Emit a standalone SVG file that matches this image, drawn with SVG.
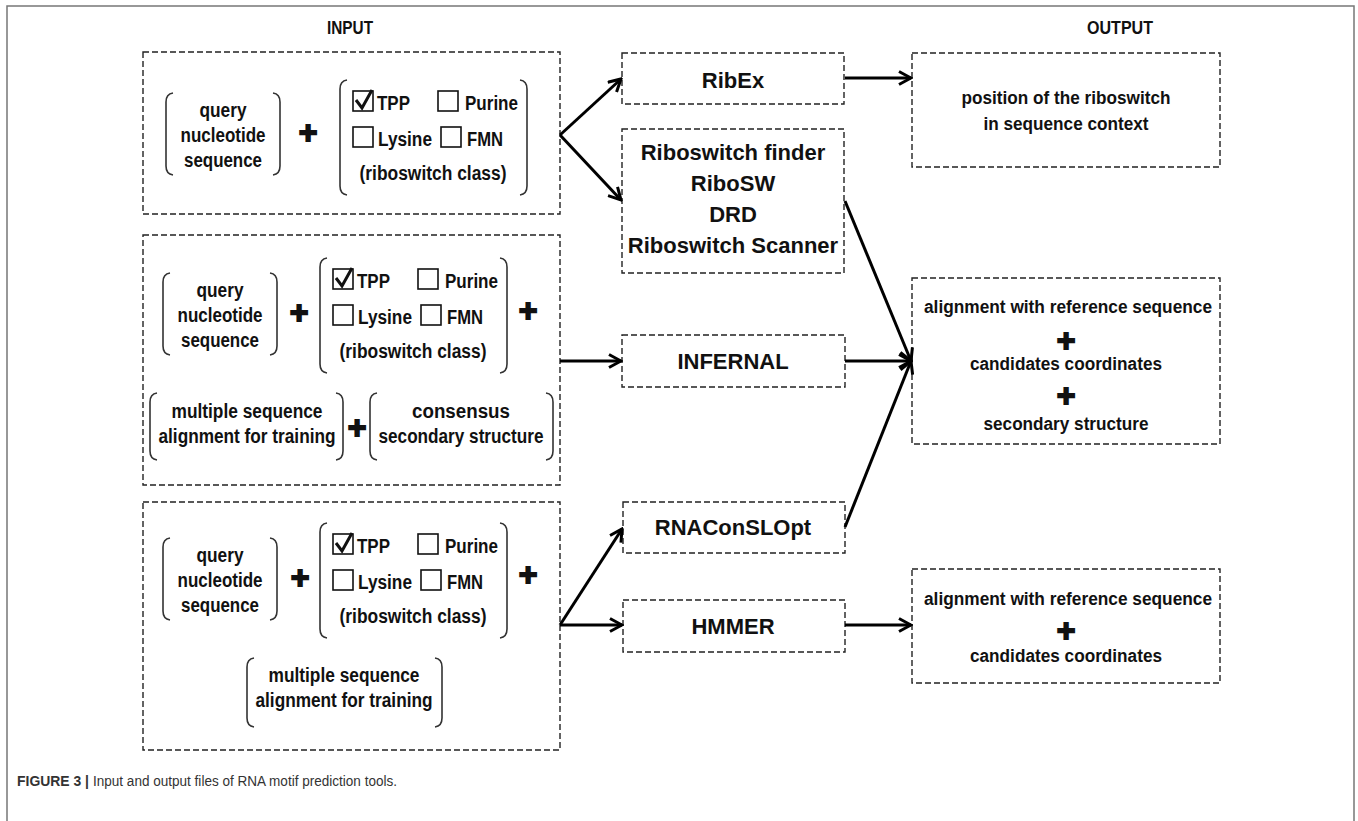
<svg xmlns="http://www.w3.org/2000/svg" width="1358" height="821" viewBox="0 0 1358 821">
<defs>
<style>
.box{fill:none;stroke:#222;stroke-width:1.4;stroke-dasharray:6 3}
.br{fill:none;stroke:#333;stroke-width:1.6}
.cb{fill:#fff;stroke:#111;stroke-width:1.6}
.ck{fill:none;stroke:#111;stroke-width:3;stroke-linejoin:miter}
.t{font-family:"Liberation Sans",Arial,sans-serif;font-weight:bold;fill:#111}
.in{font-size:20px}
.c{text-anchor:middle}
.mid{font-size:22px;text-anchor:middle}
.out{font-size:18px;text-anchor:middle}
.plus{font-family:"Liberation Sans",Arial,sans-serif;font-weight:bold;font-size:32px;text-anchor:middle;fill:#111;stroke:#111;stroke-width:1.8}
.conn{stroke:#000;stroke-width:3;fill:none}
.frame{fill:none;stroke:#777;stroke-width:1.5}
.cap{font-family:"Liberation Sans",Arial,sans-serif;font-size:15.5px;fill:#333}
</style>
<marker id="ah" markerUnits="userSpaceOnUse" viewBox="0 0 16 16" markerWidth="16" markerHeight="16" refX="14" refY="8" orient="auto">
<path d="M2,1.5 L14,8 L2,14.5" fill="none" stroke="#000" stroke-width="3"/>
</marker>
<g id="classSel">
<path class="br" d="M347,80 Q340,81 340,89 L340,186 Q340,194 347,195"/>
<path class="br" d="M520,80 Q527,81 527,89 L527,186 Q527,194 520,195"/>
<rect class="cb" x="353" y="91" width="20" height="20"/>
<path class="ck" d="M356,100 L362,108 L372,90"/>
<text class="t in" x="377" y="110" textLength="33" lengthAdjust="spacingAndGlyphs">TPP</text>
<rect class="cb" x="438" y="91" width="20" height="20"/>
<text class="t in" x="465" y="110" textLength="53" lengthAdjust="spacingAndGlyphs">Purine</text>
<rect class="cb" x="353" y="127" width="20" height="20"/>
<text class="t in" x="378" y="146" textLength="54" lengthAdjust="spacingAndGlyphs">Lysine</text>
<rect class="cb" x="441" y="127" width="20" height="20"/>
<text class="t in" x="467" y="146" textLength="36" lengthAdjust="spacingAndGlyphs">FMN</text>
<text class="t in c" x="433" y="180" textLength="147" lengthAdjust="spacingAndGlyphs">(riboswitch class)</text>
</g>
<g id="querySeq">
<path class="br" d="M173,93 Q166,94 166,102 L166,166 Q166,174 173,175"/>
<path class="br" d="M273,93 Q280,94 280,102 L280,166 Q280,174 273,175"/>
<text class="t in c" x="223" y="117" textLength="47" lengthAdjust="spacingAndGlyphs">query</text>
<text class="t in c" x="223" y="142" textLength="85" lengthAdjust="spacingAndGlyphs">nucleotide</text>
<text class="t in c" x="223" y="167" textLength="78" lengthAdjust="spacingAndGlyphs">sequence</text>
</g>
</defs>

<path class="frame" d="M7,821 L7,6 L1354,6 L1354,821"/>

<text class="t" x="350" y="34" font-size="19" text-anchor="middle" textLength="46" lengthAdjust="spacingAndGlyphs">INPUT</text>
<text class="t" x="1120" y="34" font-size="19" text-anchor="middle" textLength="66" lengthAdjust="spacingAndGlyphs">OUTPUT</text>

<g id="input1">
<rect class="box" x="143" y="52" width="417" height="162"/>
<use href="#querySeq"/>
<text class="plus" x="308" y="143">+</text>
<use href="#classSel"/>
</g>

<g id="input2">
<rect class="box" x="143" y="235" width="417" height="250"/>
<use href="#querySeq" transform="translate(-3,180)"/>
<text class="plus" x="299" y="323">+</text>
<use href="#classSel" transform="translate(-20,178)"/>
<text class="plus" x="528" y="321">+</text>
<path class="br" d="M157,393 Q150,394 150,402 L150,451 Q150,459 157,460"/>
<path class="br" d="M336,393 Q343,394 343,402 L343,451 Q343,459 336,460"/>
<text class="t in c" x="247" y="418" textLength="151" lengthAdjust="spacingAndGlyphs">multiple sequence</text>
<text class="t in c" x="247" y="443" textLength="177" lengthAdjust="spacingAndGlyphs">alignment for training</text>
<text class="plus" x="357" y="438">+</text>
<path class="br" d="M377,393 Q370,394 370,402 L370,451 Q370,459 377,460"/>
<path class="br" d="M546,393 Q553,394 553,402 L553,451 Q553,459 546,460"/>
<text class="t in c" x="461" y="418" textLength="98" lengthAdjust="spacingAndGlyphs">consensus</text>
<text class="t in c" x="461" y="443" textLength="165" lengthAdjust="spacingAndGlyphs">secondary structure</text>
</g>

<g id="input3">
<rect class="box" x="143" y="502" width="417" height="248"/>
<use href="#querySeq" transform="translate(-3,445)"/>
<text class="plus" x="300" y="588">+</text>
<use href="#classSel" transform="translate(-20,443)"/>
<text class="plus" x="528" y="585">+</text>
<path class="br" d="M254,658 Q247,659 247,667 L247,718 Q247,726 254,727"/>
<path class="br" d="M435,658 Q442,659 442,667 L442,718 Q442,726 435,727"/>
<text class="t in c" x="344" y="682" textLength="151" lengthAdjust="spacingAndGlyphs">multiple sequence</text>
<text class="t in c" x="344" y="707" textLength="177" lengthAdjust="spacingAndGlyphs">alignment for training</text>
</g>

<g id="ribex">
<rect class="box" x="622" y="53" width="222" height="51"/>
<text class="t mid" x="733" y="88">RibEx</text>
</g>

<g id="riboswitchTools">
<rect class="box" x="622" y="129" width="222" height="144"/>
<text class="t mid" x="733" y="160">Riboswitch finder</text>
<text class="t mid" x="733" y="191">RiboSW</text>
<text class="t mid" x="733" y="222">DRD</text>
<text class="t mid" x="733" y="253">Riboswitch Scanner</text>
</g>

<g id="infernal">
<rect class="box" x="622" y="335" width="223" height="52"/>
<text class="t mid" x="733" y="369">INFERNAL</text>
</g>

<g id="rnaconslopt">
<rect class="box" x="623" y="502" width="222" height="51"/>
<text class="t mid" x="733" y="535">RNAConSLOpt</text>
</g>

<g id="hmmer">
<rect class="box" x="623" y="600" width="222" height="52"/>
<text class="t mid" x="733" y="634">HMMER</text>
</g>

<g id="output1">
<rect class="box" x="912" y="53" width="308" height="114"/>
<text class="t out" x="1066" y="104" textLength="209" lengthAdjust="spacingAndGlyphs">position of the riboswitch</text>
<text class="t out" x="1066" y="130" textLength="165" lengthAdjust="spacingAndGlyphs">in sequence context</text>
</g>

<g id="output2">
<rect class="box" x="912" y="278" width="308" height="166"/>
<text class="t out" x="1068" y="313" textLength="288" lengthAdjust="spacingAndGlyphs">alignment with reference sequence</text>
<text class="plus" x="1066" y="351">+</text>
<text class="t out" x="1066" y="370" textLength="192" lengthAdjust="spacingAndGlyphs">candidates coordinates</text>
<text class="plus" x="1066" y="406">+</text>
<text class="t out" x="1066" y="430" textLength="165" lengthAdjust="spacingAndGlyphs">secondary structure</text>
</g>

<g id="output3">
<rect class="box" x="912" y="569" width="308" height="114"/>
<text class="t out" x="1068" y="605" textLength="288" lengthAdjust="spacingAndGlyphs">alignment with reference sequence</text>
<text class="plus" x="1066" y="641">+</text>
<text class="t out" x="1066" y="662" textLength="192" lengthAdjust="spacingAndGlyphs">candidates coordinates</text>
</g>

<g id="connectors">
<path class="conn" d="M560,135 L621,79" marker-end="url(#ah)"/>
<path class="conn" d="M560,135 L621,200" marker-end="url(#ah)"/>
<path class="conn" d="M845,78 L911,78" marker-end="url(#ah)"/>
<path class="conn" d="M560,361 L621,361" marker-end="url(#ah)"/>
<path class="conn" d="M845,201 L911,361" marker-end="url(#ah)"/>
<path class="conn" d="M845,361 L911,361" marker-end="url(#ah)"/>
<path class="conn" d="M845,527 L911,361" marker-end="url(#ah)"/>
<path class="conn" d="M560,625 L622,529" marker-end="url(#ah)"/>
<path class="conn" d="M560,625 L622,625" marker-end="url(#ah)"/>
<path class="conn" d="M845,625 L911,625" marker-end="url(#ah)"/>
</g>

<text class="cap" x="17" y="786" font-weight="bold" fill="#222" textLength="72" lengthAdjust="spacingAndGlyphs">FIGURE 3 |</text>
<text class="cap" x="93" y="786" textLength="304" lengthAdjust="spacingAndGlyphs">Input and output files of RNA motif prediction tools.</text>
</svg>
